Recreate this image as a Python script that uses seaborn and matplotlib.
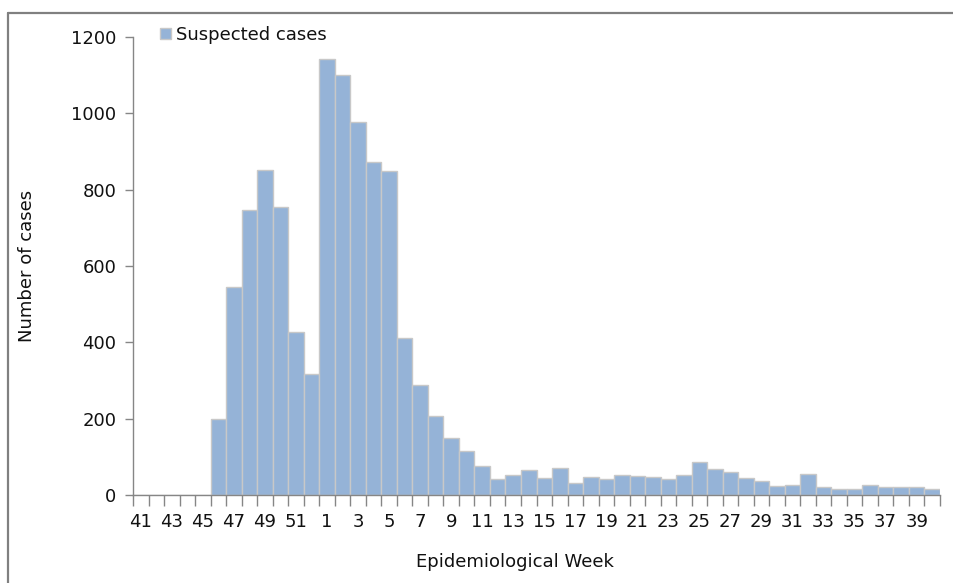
import matplotlib
matplotlib.use("Agg")
import matplotlib.pyplot as plt
import seaborn as sns
import pandas as pd
from matplotlib.lines import Line2D

# ---- data ----
weeks = [41, 42, 43, 44, 45, 46, 47, 48, 49, 50, 51, 52] + list(range(1, 41))
cases = [0, 0, 0, 0, 0, 200, 545, 747, 852, 754, 427, 317,
         1142, 1100, 977, 872, 849, 411, 288, 207, 149, 115,
         76, 43, 53, 66, 45, 71, 32, 48, 42, 53,
         50, 48, 42, 53, 87, 68, 60, 45, 37, 24,
         26, 55, 20, 15, 15, 26, 20, 20, 20, 17]
series_name = "Suspected cases"
y_ticks = [0, 200, 400, 600, 800, 1000, 1200]

sns.set_theme(style="white")
plt.rcParams['font.family'] = ['DejaVu Sans']

FS = 13
fig = plt.figure(figsize=(9.54, 5.83), dpi=100)
ax = fig.add_axes([133/954, 1-495/583, (940-133)/954, (495-37)/583])

df = pd.DataFrame({"week": [str(w) for w in weeks], "cases": cases})
sns.barplot(data=df, x="week", y="cases", order=list(df["week"]),
            color="#95B3D7", saturation=1, width=1.0,
            edgecolor="#C8C8C8", linewidth=1.0, ax=ax, label=series_name)

axis_col = "#868686"
txt_col = "#111111"
ax.set_xlim(-0.5, len(weeks) - 0.5)
ax.set_ylim(0, 1200)
ax.set_yticks(y_ticks)
ax.set_yticklabels([str(t) for t in y_ticks], fontsize=FS, color=txt_col)

major = list(range(0, len(weeks), 2))
ax.set_xticks(major)
ax.set_xticklabels([str(weeks[i]) for i in major], fontsize=FS, color=txt_col)
ax.set_xticks([i - 0.5 for i in range(len(weeks) + 1)], minor=True)
ax.tick_params(axis="x", which="major", bottom=True, length=0, pad=13)
ax.tick_params(axis="x", which="minor", bottom=True, length=8, width=1, color=axis_col)
ax.tick_params(axis="y", which="major", left=True, length=6, width=1, color=axis_col, pad=6)

for s in ["top", "right"]:
    ax.spines[s].set_visible(False)
for s in ["left", "bottom"]:
    ax.spines[s].set_color(axis_col)
    ax.spines[s].set_linewidth(1)

ax.set_xlabel("Epidemiological Week", fontsize=FS, color=txt_col)
ax.set_ylabel("Number of cases", fontsize=FS, color=txt_col)
ax.xaxis.set_label_coords((515-133)/807, -(553-495)/458)
ax.yaxis.set_label_coords((36-133)/807, 0.5)

leg = ax.legend(loc="center left", bbox_to_anchor=((160-133)/807, (495-35)/458),
                frameon=False, handlelength=0.6, handleheight=0.6,
                handletextpad=0.3, borderaxespad=0, borderpad=0, fontsize=FS)
for t in leg.get_texts():
    t.set_color(txt_col)

# outer frame (top and left edges visible)
fig.add_artist(Line2D([8.5/954, 1.0], [1-12.5/583, 1-12.5/583],
                      transform=fig.transFigure, color="#808080", linewidth=1.6))
fig.add_artist(Line2D([8.5/954, 8.5/954], [0, 1-12.5/583],
                      transform=fig.transFigure, color="#808080", linewidth=1.6))

fig.savefig("out.png", dpi=100)
